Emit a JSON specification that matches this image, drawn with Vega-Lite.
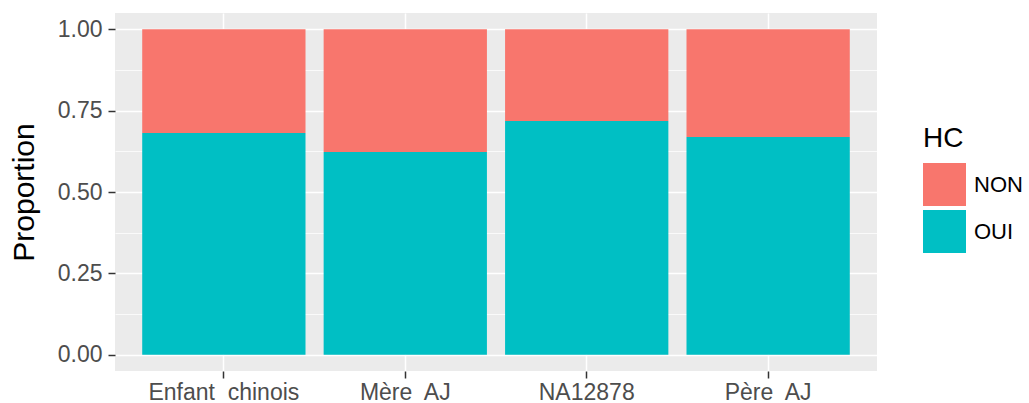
{
  "$schema": "https://vega.github.io/schema/vega-lite/v6.json",
  "autosize": "none",
  "width": 762,
  "height": 358,
  "padding": {"left": 115, "top": 13, "right": 152, "bottom": 32},
  "background": "white",
  "config": {
    "view": {"fill": "#EBEBEB", "stroke": null},
    "font": "Liberation Sans"
  },
  "data": {
    "values": [
      {"echantillon": "Enfant\u00a0 chinois", "HC": "OUI", "proportion": 0.681},
      {"echantillon": "Enfant\u00a0 chinois", "HC": "NON", "proportion": 0.319},
      {"echantillon": "Mère\u00a0 AJ", "HC": "OUI", "proportion": 0.623},
      {"echantillon": "Mère\u00a0 AJ", "HC": "NON", "proportion": 0.377},
      {"echantillon": "NA12878", "HC": "OUI", "proportion": 0.718},
      {"echantillon": "NA12878", "HC": "NON", "proportion": 0.282},
      {"echantillon": "Père\u00a0 AJ", "HC": "OUI", "proportion": 0.669},
      {"echantillon": "Père\u00a0 AJ", "HC": "NON", "proportion": 0.331}
    ]
  },
  "mark": {"type": "bar"},
  "encoding": {
    "x": {
      "field": "echantillon",
      "type": "nominal",
      "sort": null,
      "scale": {"paddingInner": 0.1, "paddingOuter": 0.15},
      "axis": {
        "title": null,
        "labelAngle": 0,
        "bandPosition": 0.5,
        "domain": false,
        "grid": true,
        "gridColor": "white",
        "gridWidth": 1.5,
        "tickColor": "#333333",
        "tickWidth": 1.5,
        "tickSize": 7,
        "labelFontSize": 23,
        "labelColor": "#4D4D4D",
        "labelPadding": 3
      }
    },
    "y": {
      "field": "proportion",
      "type": "quantitative",
      "stack": "zero",
      "scale": {"domain": [-0.05, 1.05], "nice": false, "zero": false},
      "axis": {
        "title": "Proportion",
        "titleFontSize": 30,
        "titleFontWeight": "normal",
        "titleColor": "black",
        "titlePadding": 18,
        "values": [0, 0.125, 0.25, 0.375, 0.5, 0.625, 0.75, 0.875, 1],
        "labelExpr": "(datum.value * 4) % 1 == 0 ? format(datum.value, '.2f') : ''",
        "domain": false,
        "grid": true,
        "gridColor": "white",
        "gridWidth": {"condition": {"test": "(datum.value * 4) % 1 == 0", "value": 1.5}, "value": 0.75},
        "tickOpacity": {"condition": {"test": "(datum.value * 4) % 1 == 0", "value": 1}, "value": 0},
        "tickColor": "#333333",
        "tickWidth": 1.5,
        "tickSize": 7,
        "labelFontSize": 23,
        "labelColor": "#4D4D4D",
        "labelPadding": 6
      }
    },
    "color": {
      "field": "HC",
      "type": "nominal",
      "scale": {"domain": ["NON", "OUI"], "range": ["#F8766D", "#00BFC4"]},
      "legend": {
        "orient": "none",
        "legendX": 808,
        "legendY": 112,
        "title": "HC",
        "titleFontSize": 28,
        "titleFontWeight": "normal",
        "titleColor": "black",
        "titlePadding": 10,
        "labelFontSize": 22,
        "labelColor": "black",
        "symbolType": "square",
        "symbolSize": 1849,
        "symbolStrokeWidth": 0,
        "symbolOpacity": 1,
        "rowPadding": 4,
        "labelOffset": 8,
        "padding": 0
      }
    },
    "order": {"field": "HC", "sort": "descending"}
  }
}
